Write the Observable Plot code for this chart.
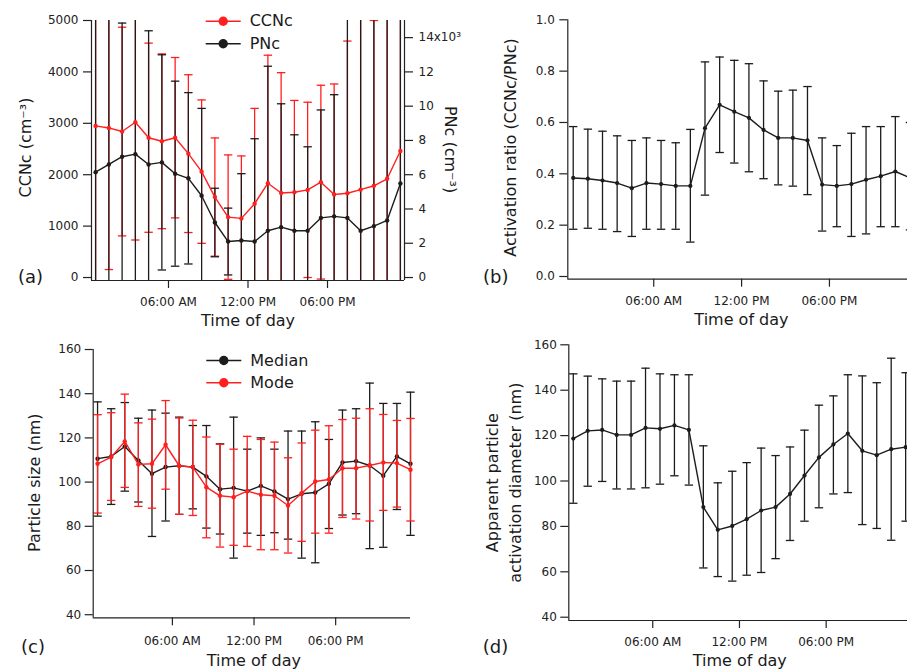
<!DOCTYPE html>
<html><head><meta charset="utf-8">
<script src="https://cdn.jsdelivr.net/npm/d3@7"></script>
<script src="https://cdn.jsdelivr.net/npm/@observablehq/plot@0.6"></script>
<style>
html,body{margin:0;padding:0;background:#fff;}
#wrap{position:relative;width:907px;height:669px;overflow:hidden;background:#fff;}
.panel{position:absolute;}
.panel svg{max-width:none !important;}
</style></head><body><div id="wrap">
<div class="panel" id="pa" style="left:0;top:0;width:460px"></div>
<div class="panel" id="pb" style="left:460px;top:0;width:470px"></div>
<div class="panel" id="pc" style="left:0;top:330px;width:460px"></div>
<div class="panel" id="pd" style="left:460px;top:330px;width:470px"></div>
</div>
<script>
// ---- shared categories ----
const hours = [0.5,1.5,2.5,3.5,4.5,5.5,6.5,7.5,8.5,9.5,10.5,11.5,12.5,13.5,14.5,15.5,16.5,17.5,18.5,19.5,20.5,21.5,22.5,23.5];
const xTicks = [6, 12, 18];
const xTickLabels = ["06:00 AM", "12:00 PM", "06:00 PM"];

// ---- (a) CCNc and PNc (PNc in 10^3 cm^-3) ----
const ccnc   = [2950,2910,2840,3020,2720,2650,2720,2410,2060,1565,1175,1150,1435,1835,1645,1660,1705,1855,1615,1640,1710,1785,1920,2460];
const ccncSd = [3100,2755,2030,2290,1840,1700,1560,1535,1395,1150,1210,1215,1855,2490,2340,1785,1705,1885,2150,2960,3400,3215,3500,3000];
const pnc    = [6.15,6.6,7.05,7.2,6.6,6.72,6.06,5.79,4.77,3.21,2.1,2.16,2.1,2.73,2.94,2.73,2.73,3.48,3.57,3.48,2.73,3.0,3.33,5.49];
const pncSd  = [9.9,9.6,7.8,8.7,7.8,6.28,5.4,5.0,5.1,2.0,1.95,3.9,6.0,9.6,7.2,5.6,4.9,6.3,7.1,12.6,13.2,12.9,13.5,12.0];
const ccncTicks = [0,1000,2000,3000,4000,5000];
const pncTicks = [0,2,4,6,8,10,12,14];
const ccncMax = 5000, pncMax = 15;

// ---- (b) activation ratio ----
const ratio   = [0.384,0.381,0.374,0.364,0.344,0.364,0.360,0.353,0.353,0.578,0.669,0.642,0.618,0.571,0.540,0.540,0.530,0.358,0.353,0.360,0.377,0.391,0.409,0.385];
const ratioHi = [0.584,0.574,0.566,0.548,0.530,0.540,0.530,0.521,0.573,0.836,0.855,0.842,0.829,0.762,0.722,0.726,0.740,0.540,0.510,0.558,0.584,0.584,0.623,0.600];
const ratioLo = [0.184,0.188,0.184,0.175,0.156,0.184,0.184,0.184,0.134,0.317,0.483,0.442,0.408,0.381,0.357,0.352,0.319,0.177,0.194,0.156,0.166,0.194,0.194,0.182];
const ratioTicks = [0,0.2,0.4,0.6,0.8,1.0];

// ---- (c) particle size ----
const median   = [110.6,111.6,116.1,109.8,103.8,106.8,107.4,106.8,102.6,96.8,97.4,95.9,98.3,95.8,92.3,94.7,95.3,99.2,108.9,109.5,107.5,102.9,111.6,108.3];
const medianHi = [136.3,133.2,136.0,128.9,132.6,131.2,129.4,125.6,125.6,117.3,129.4,114.9,120.0,114.9,123.1,123.1,127.3,119.3,132.6,133.2,144.8,135.6,135.6,140.7];
const medianLo = [84.6,89.9,95.9,91.0,75.4,82.4,85.4,87.9,79.2,76.5,65.6,76.9,75.9,77.1,74.2,65.6,63.5,79.0,85.1,85.7,69.9,70.5,87.6,75.9];
const mode     = [108.3,111.3,118.4,108.0,108.3,116.9,107.4,106.8,97.7,93.8,93.2,95.9,94.3,93.8,89.4,95.0,100.3,101.2,106.3,106.3,107.5,108.9,108.6,105.6];
const modeHi   = [130.5,131.4,139.8,126.8,128.5,136.9,129.0,128.0,120.4,117.1,114.9,120.7,119.3,118.1,111.0,117.7,123.5,125.5,128.3,128.9,133.2,130.6,127.9,128.8];
const modeLo   = [86.0,91.7,97.6,89.0,88.2,96.8,85.4,84.9,74.8,70.6,71.4,70.9,69.4,69.4,67.9,73.2,76.9,76.9,84.0,83.3,82.4,87.2,88.7,82.4];
const sizeTicks = [40,60,80,100,120,140,160];

// ---- (d) apparent activation diameter ----
const diam   = [118.7,122.1,122.5,120.3,120.3,123.4,123.0,124.5,122.5,88.5,78.5,80.2,83.2,87.0,88.5,94.3,102.4,110.4,116.1,120.9,113.3,111.4,114.0,114.9];
const diamHi = [147.2,146.2,145.0,144.0,144.0,149.7,147.2,146.8,146.8,115.5,99.2,104.3,108.1,114.5,111.2,115.0,122.4,133.4,137.5,146.8,146.3,143.3,154.1,147.7];
const diamLo = [90.2,97.7,99.8,96.5,96.5,97.0,98.6,102.3,98.2,61.7,57.9,55.9,58.5,59.7,65.8,73.8,82.3,88.2,94.3,94.9,80.8,79.1,73.9,82.3];

// ---- styling helpers ----
const INK = "#1c1c1c", RED = "#ff1f1f", AXIS = "#222";
const FONT = "DejaVu Sans";
const cap = {draw(ctx, size) { const r = Math.sqrt(size / Math.PI); ctx.moveTo(-r, 0); ctx.lineTo(r, 0); }};

function errorMarks(rows, lo, hi, color, clip) {
  return [
    Plot.ruleX(rows, {x: "h", y1: lo, y2: hi, stroke: color, strokeWidth: 1.3, clip}),
    Plot.dot(rows, {x: "h", y: lo, symbol: cap, r: 4.2, stroke: color, strokeWidth: 1.3, fill: "none", clip}),
    Plot.dot(rows, {x: "h", y: hi, symbol: cap, r: 4.2, stroke: color, strokeWidth: 1.3, fill: "none", clip})
  ];
}
function seriesMarks(rows, y, color, r) {
  return [
    Plot.line(rows, {x: "h", y, stroke: color, strokeWidth: 1.4}),
    Plot.dot(rows, {x: "h", y, r, fill: color, stroke: "none"})
  ];
}
function spines(xDom, yDom, withRight) {
  const m = [
    Plot.ruleX([xDom[0]], {stroke: AXIS, strokeWidth: 1.2}),
    Plot.ruleY([yDom[0]], {stroke: AXIS, strokeWidth: 1.2})
  ];
  if (withRight) m.push(Plot.ruleX([xDom[1]], {stroke: AXIS, strokeWidth: 1.2}));
  return m;
}
function xAxis(pad) {
  return Plot.axisX({ticks: xTicks, tickFormat: d => xTickLabels[xTicks.indexOf(d)],
    tickSize: 8, tickPadding: pad, fontSize: 12, label: null, stroke: AXIS, strokeWidth: 1.2});
}
function yAxis(ticks, fmt, pad) {
  return Plot.axisY({ticks, tickFormat: fmt, tickSize: 8, tickPadding: pad, fontSize: 12, label: null, stroke: AXIS, strokeWidth: 1.2});
}
function titleText(str, opts) {
  return Plot.text([str], {text: d => d, fontSize: 16, fill: "#1a1a1a", lineAnchor: "middle", textAnchor: "middle", ...opts});
}
function legendMarks(items, dx, dy0, step) {
  return items.flatMap((it, i) => [
    Plot.dot([it], {frameAnchor: "top-left", dx, dy: dy0 + i * step, symbol: cap, r: 17.5, stroke: it.color, strokeWidth: 1.4, fill: "none"}),
    Plot.dot([it], {frameAnchor: "top-left", dx, dy: dy0 + i * step, r: 4.7, fill: it.color, stroke: "none"}),
    Plot.text([it], {frameAnchor: "top-left", dx: dx + 26.5, dy: dy0 + i * step, text: "name", fontSize: 16, fill: "#1a1a1a", textAnchor: "start", lineAnchor: "middle"})
  ]);
}
const baseStyle = {fontFamily: FONT, fontSize: "12px", color: "#222", background: "transparent", overflow: "visible", maxWidth: "none"};

// ---- panel (a) ----
{
  const f = ccncMax / pncMax;
  const rows = hours.map((h, i) => ({h,
    c: ccnc[i], cLo: ccnc[i] - ccncSd[i], cHi: ccnc[i] + ccncSd[i],
    p: pnc[i] * f, pLo: (pnc[i] - pncSd[i]) * f, pHi: (pnc[i] + pncSd[i]) * f}));
  const xDom = [0.19, 23.81], yDom = [-58, ccncMax];
  const topP = pncTicks[pncTicks.length - 1];
  const chart = Plot.plot({
    width: 460, height: 330, marginLeft: 91, marginRight: 56, marginTop: 20, marginBottom: 50,
    style: baseStyle,
    x: {domain: xDom}, y: {domain: yDom},
    marks: [
      ...errorMarks(rows, "cLo", "cHi", RED, true),
      ...errorMarks(rows, "pLo", "pHi", INK, true),
      ...seriesMarks(rows, "p", INK, 2.2),
      ...seriesMarks(rows, "c", RED, 2.2),
      ...spines(xDom, yDom, true),
      xAxis(9),
      yAxis(ccncTicks, d => String(d), 5),
      Plot.axisY({anchor: "right", ticks: pncTicks.map(v => v * f),
        tickFormat: d => { const v = Math.round(d / f); return v === topP ? v + "x10³" : String(v); },
        tickSize: 8, tickPadding: 6, fontSize: 12, label: null, stroke: AXIS, strokeWidth: 1.2}),
      titleText("Time of day", {frameAnchor: "bottom", dy: 40}),
      titleText("CCNc (cm⁻³)", {frameAnchor: "left", dx: -66, dy: -3, rotate: -90}),
      titleText("PNc (cm⁻³)", {frameAnchor: "right", dx: 46, dy: -1, rotate: 90}),
      titleText("(a)", {frameAnchor: "bottom-left", dx: -61, dy: -3, fontSize: 18}),
      ...legendMarks([{name: "CCNc", color: RED}, {name: "PNc", color: INK}], 131.7, 0.7, 22.6)
    ]
  });
  document.getElementById("pa").append(chart);
}

// ---- panel (b) ----
{
  const rows = hours.map((h, i) => ({h, v: ratio[i], lo: ratioLo[i], hi: ratioHi[i]}));
  const xDom = [0.13, 23.85], yDom = [-0.0105, 1.0];
  const chart = Plot.plot({
    width: 470, height: 330, marginLeft: 107.3, marginRight: 15.4, marginTop: 19.3, marginBottom: 51.3,
    style: baseStyle,
    x: {domain: xDom}, y: {domain: yDom},
    marks: [
      ...errorMarks(rows, "lo", "hi", INK, false),
      ...seriesMarks(rows, "v", INK, 2.1),
      ...spines(xDom, yDom, false),
      xAxis(9),
      yAxis(ratioTicks, d3.format(".1f"), 5),
      titleText("Time of day", {frameAnchor: "bottom", dy: 40.6}),
      titleText("Activation ratio (CCNc/PNc)", {frameAnchor: "left", dx: -57, dy: -2, rotate: -90}),
      titleText("(b)", {frameAnchor: "bottom-left", dx: -72, dy: -1.7, fontSize: 18})
    ]
  });
  document.getElementById("pb").append(chart);
}

// ---- panel (c) ----
{
  const rows = hours.map((h, i) => ({h, md: median[i], mdLo: medianLo[i], mdHi: medianHi[i],
    mo: mode[i], moLo: modeLo[i], moHi: modeHi[i]}));
  const xDom = [0.18, 23.5], yDom = [38.6, 160];
  const chart = Plot.plot({
    width: 460, height: 339, marginLeft: 92.7, marginRight: 50, marginTop: 19, marginBottom: 51.7,
    style: baseStyle,
    x: {domain: xDom}, y: {domain: yDom},
    marks: [
      ...errorMarks(rows, "mdLo", "mdHi", INK, false),
      ...seriesMarks(rows, "md", INK, 2.2),
      ...errorMarks(rows, "moLo", "moHi", RED, false),
      ...seriesMarks(rows, "mo", RED, 2.2),
      ...spines(xDom, yDom, false),
      xAxis(11),
      yAxis(sizeTicks, d => String(d), 4),
      titleText("Time of day", {frameAnchor: "bottom", dy: 43.4, dx: 2}),
      titleText("Particle size (nm)", {frameAnchor: "left", dx: -58, dy: -1, rotate: -90}),
      titleText("(c)", {frameAnchor: "bottom-left", dx: -60.2, dy: 29.4, fontSize: 18}),
      ...legendMarks([{name: "Median", color: INK}, {name: "Mode", color: RED}], 130.6, 11, 22.3)
    ]
  });
  document.getElementById("pc").append(chart);
}

// ---- panel (d) ----
{
  const rows = hours.map((h, i) => ({h, v: diam[i], lo: diamLo[i], hi: diamHi[i]}));
  const xDom = [0.19, 23.85], yDom = [38.55, 160];
  const chart = Plot.plot({
    width: 470, height: 339, marginLeft: 108.3, marginRight: 19.8, marginTop: 14.3, marginBottom: 49,
    style: baseStyle,
    x: {domain: xDom}, y: {domain: yDom},
    marks: [
      ...errorMarks(rows, "lo", "hi", INK, false),
      ...seriesMarks(rows, "v", INK, 2.1),
      ...spines(xDom, yDom, false),
      xAxis(9),
      yAxis(sizeTicks, d => String(d), 4),
      titleText("Time of day", {frameAnchor: "bottom", dy: 40}),
      titleText("Apparent particle\nactivation diameter (nm)", {frameAnchor: "left", dx: -66.6, dy: 0, rotate: -90, lineHeight: 1.46}),
      titleText("(d)", {frameAnchor: "bottom-left", dx: -73.3, dy: 26.7, fontSize: 18})
    ]
  });
  document.getElementById("pd").append(chart);
}
</script>
</body></html>
